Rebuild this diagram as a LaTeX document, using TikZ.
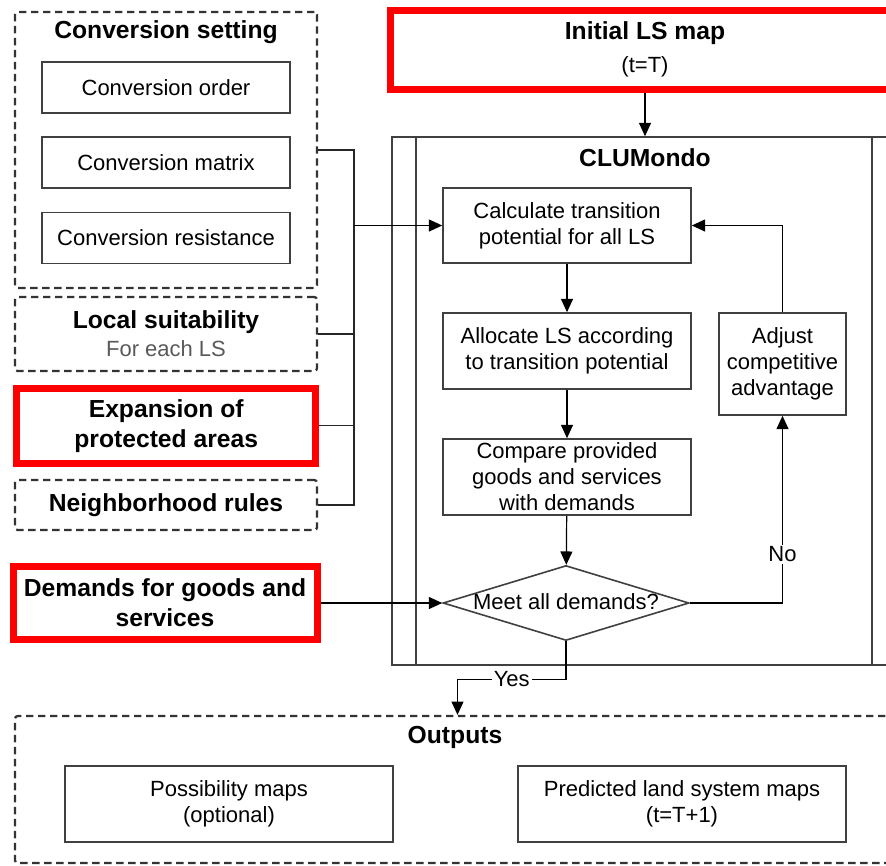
\documentclass[tikz,border=0pt]{standalone}
\usepackage{fontspec}
\setmainfont{Liberation Sans}
\usetikzlibrary{arrows.meta,shapes.geometric}

\newcommand\normtxt{\fontsize{16.5}{19.5}\selectfont\mdseries}
\newcommand\boldtxt{\fontsize{18.5}{22.5}\selectfont\bfseries}

\begin{document}
\begin{tikzpicture}[x=0.75pt,y=-0.75pt]
\tikzset{
  box/.style={draw=black!75,line width=1.2pt,inner sep=0pt,align=center,font=\normtxt,
    minimum width=186pt,minimum height=57pt},
  grp/.style={draw=black!80,line width=1.7pt,dash pattern=on 5.5pt off 3.5pt,
    rounded corners=2pt,inner sep=0pt,align=center},
  hot/.style={draw=red,line width=5.25pt,inner sep=0pt,align=center,font=\boldtxt},
  ttl/.style={font=\boldtxt,inner sep=1pt,align=center},
  dec/.style={box,diamond,shape aspect=3.28,minimum width=184.5pt,minimum height=56.25pt,
    text height=10pt,text depth=1pt},
  lbl/.style={fill=white,inner sep=1.5pt,font=\normtxt},
  flow/.style={draw=black,line width=0.9pt,-{Triangle[length=10pt,width=9pt]}},
  wire/.style={draw=black!85,line width=0.9pt},
}
\clip (0,0) rectangle (886,865);

%% Inputs on the left
\node[grp,minimum width=226.5pt,minimum height=207pt] (cs) at (166,150) {};
\node[ttl] (cstitle) at (166,32) {Conversion setting};
\node[box,minimum height=38pt] (order) at (166,87.5) {Conversion order};
\node[box,minimum height=38pt] (cmatrix) at (166,162.5) {Conversion matrix};
\node[box,minimum height=38pt] (resist) at (166,238) {Conversion resistance};

\node[grp,minimum width=226.5pt,minimum height=55.5pt] (suit) at (166,334)
  {{\boldtxt Local suitability}\\[4pt]{\normtxt\color{black!65}For each LS}};
\node[hot,minimum width=224.6pt,minimum height=56.6pt] (expan) at (166.25,425.75)
  {Expansion of\\protected areas};
\node[grp,minimum width=226.5pt,minimum height=37.5pt,font=\boldtxt] (neigh) at (166,505)
  {Neighborhood rules};
\node[hot,minimum width=228pt,minimum height=54.75pt] (demand) at (165,603)
  {Demands for goods and\\services};

%% Initial map
\node[hot,minimum width=382.5pt,minimum height=59.25pt] (init) at (645,49.5)
  {Initial LS map\\[2pt]{\normtxt (t=T)}};

%% CLUMondo
\node[box,minimum width=378pt,minimum height=396pt] (clu) at (644,401) {};
\draw[wire,draw=black!75,line width=1.2pt] ([xshift=18.75pt]clu.north west) -- ([xshift=18.75pt]clu.south west);
\draw[wire,draw=black!75,line width=1.2pt] ([xshift=-18.75pt]clu.north east) -- ([xshift=-18.75pt]clu.south east);
\node[ttl] (clutitle) at (645,158) {CLUMondo};

\node[box,minimum height=56.25pt] (calc) at (567,225.5) {Calculate transition\\potential for all LS};
\node[box] (alloc) at (567,351) {Allocate LS according\\to transition potential};
\node[box] (comp) at (567,477) {Compare provided\\goods and services\\with demands};
\node[dec] (meet) at (566,603) {Meet all demands?};
\node[box,minimum width=95.25pt,minimum height=76.5pt] (adjust) at (782.5,364)
  {Adjust\\competitive\\advantage};

%% Outputs
\node[grp,minimum width=663.75pt,minimum height=110.25pt] (outs) at (457.5,789.5) {};
\node[ttl] (outtitle) at (455,737) {Outputs};
\node[box,minimum width=246pt] (poss) at (229,804) {Possibility maps\\(optional)};
\node[box,minimum width=246pt] (pred) at (682,804) {Predicted land system maps\\(t=T+1)};

%% Connectors
\coordinate (bus) at (354,225.5);
\foreach \src in {cs,suit,expan,neigh}
  \draw[wire] (\src.east) -| (bus);
\draw[flow] (bus) -- (calc.west);
\draw[flow] (demand.east) -- (meet.west);
\draw[flow] (init.south) -- (init.south |- clu.north);
\draw[flow] (calc) -- (alloc);
\draw[flow] (alloc) -- (comp);
\draw[flow] (comp) -- (meet);
\draw[flow] (meet.east) -| node[lbl,pos=0.63] (no) {No} (adjust.south);
\draw[flow] (adjust.north) |- (calc.east);
\draw[flow] (meet.south) -- ++(0,38) -| node[lbl,pos=0.25] (yes) {Yes} (outs.north);
\end{tikzpicture}
\end{document}
